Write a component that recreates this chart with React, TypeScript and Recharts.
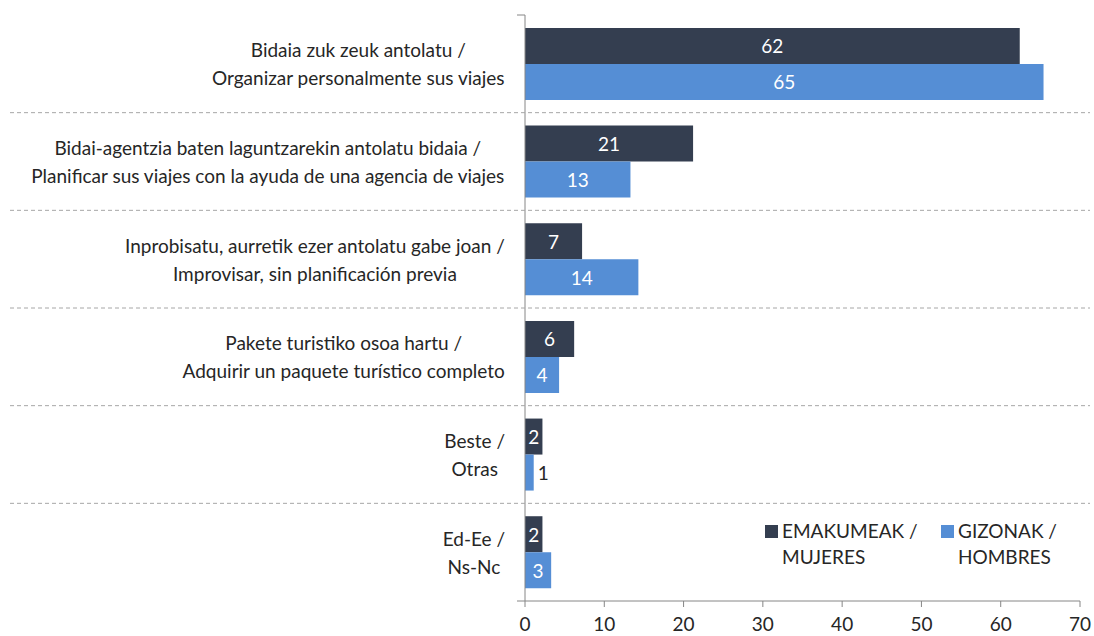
import React from 'react';
import { BarChart, Bar, XAxis, YAxis, LabelList, Legend } from 'recharts';

// categories: Basque / Spanish, two lines each
const labelLines = [
  ['Bidaia zuk zeuk antolatu /', 'Organizar personalmente sus viajes'],
  ['Bidai-agentzia baten laguntzarekin antolatu bidaia /', 'Planificar sus viajes con la ayuda de una agencia de viajes'],
  ['Inprobisatu, aurretik ezer antolatu gabe joan /', 'Improvisar, sin planificación previa'],
  ['Pakete turistiko osoa hartu /', 'Adquirir un paquete turístico completo'],
  ['Beste /', 'Otras'],
  ['Ed-Ee /', 'Ns-Nc'],
];
// percentages as drawn (labels show them rounded)
const mujeres = [62.4, 21.2, 7.2, 6.2, 2.2, 2.2];
const hombres = [65.4, 13.3, 14.3, 4.3, 1.1, 3.3];
const xTicks = [0, 10, 20, 30, 40, 50, 60, 70];
const seriesNames = [
  ['EMAKUMEAK /', 'MUJERES'],
  ['GIZONAK /', 'HOMBRES'],
];

const data = labelLines.map((lines, i) => ({
  key: String(i),
  mujeres: mujeres[i],
  hombres: hombres[i],
}));

const W = 1094;
const H = 636;
const MARGIN = { top: 15, right: 14, bottom: 5, left: 0 };
const X_AXIS_H = 30;
const Y_AXIS_W = 525;
const BAND = (H - MARGIN.top - MARGIN.bottom - X_AXIS_H) / data.length;

const DARK = '#343E50';
const LIGHT = '#558ED5';
const TEXT = '#262626';
const AXIS = '#868686';
const FONT_FAMILY = 'Lato, "Open Sans", sans-serif';
const FONT_SIZE = 19;
const LINE_H = 28;
const TICK_SIZE = 6;
const TICK_MARGIN = 14;

const measureCtx = typeof document !== 'undefined' ? document.createElement('canvas').getContext('2d') : null;
function textWidth(s: string) {
  if (!measureCtx) return s.length * 8;
  measureCtx.font = `${FONT_SIZE}px ${FONT_FAMILY}`;
  return measureCtx.measureText(s).width;
}

function CategoryTick(props: any) {
  const { x, y, payload, index } = props;
  const lines = labelLines[Number(payload.value)];
  const w = Math.max(...lines.map(textWidth));
  const cx = x - w / 2;
  const half = BAND / 2;
  const axisX = x + TICK_SIZE + TICK_MARGIN;
  return (
    <g>
      {lines.map((l, i) => (
        <text
          key={i}
          x={cx}
          y={y + (i - (lines.length - 1) / 2) * LINE_H}
          textAnchor="middle"
          dominantBaseline="central"
          fill={TEXT}
          fontSize={FONT_SIZE}
          fontFamily={FONT_FAMILY}
        >
          {l}
        </text>
      ))}
      {index > 0 && (
        <line x1={10} x2={W - 4} y1={y - half} y2={y - half} stroke="#A6A6A6" strokeDasharray="4 3" />
      )}
      {index === 0 && <line x1={axisX - 8} x2={axisX} y1={y - half} y2={y - half} stroke={AXIS} />}
      {index === data.length - 1 && <line x1={axisX - 8} x2={axisX} y1={y + half} y2={y + half} stroke={AXIS} />}
    </g>
  );
}

function ValueLabel(props: any) {
  const { value } = props;
  const vb = props.viewBox || {};
  const x = props.x ?? vb.x;
  const y = props.y ?? vb.y;
  const width = props.width ?? vb.width;
  const height = props.height ?? vb.height;
  const inside = width > 12;
  return (
    <text
      x={inside ? x + width / 2 : x + width + 4}
      y={y + height / 2}
      textAnchor={inside ? 'middle' : 'start'}
      dominantBaseline="central"
      fill={inside ? '#FFFFFF' : TEXT}
      fontSize={FONT_SIZE}
      fontFamily={FONT_FAMILY}
    >
      {Math.round(Number(value))}
    </text>
  );
}

function LegendContent() {
  const colors = [DARK, LIGHT];
  return (
    <div style={{ display: 'flex', fontFamily: FONT_FAMILY, fontSize: FONT_SIZE, color: TEXT }}>
      {seriesNames.map((lines, i) => (
        <div key={i} style={{ display: 'flex', alignItems: 'flex-start', width: 176, flexShrink: 0 }}>
          <div style={{ width: 13, height: 13, background: colors[i], marginTop: 7, marginRight: 4, flexShrink: 0 }} />
          <div style={{ lineHeight: '26px', textAlign: 'left', whiteSpace: 'nowrap' }}>
            {lines.map((l, j) => (
              <div key={j}>{l}</div>
            ))}
          </div>
        </div>
      ))}
    </div>
  );
}

export default function App() {
  return (
    <div style={{ width: W, height: H, background: '#fff' }}>
      <style>{`body{margin:0}`}</style>
      <BarChart
        width={W}
        height={H}
        data={data}
        layout="vertical"
        margin={MARGIN}
        barCategoryGap="13.2%"
        barGap={0}
      >
        <XAxis
          type="number"
          domain={[0, 70]}
          ticks={xTicks}
          height={X_AXIS_H}
          tickSize={6}
          tickMargin={11}
          axisLine={{ stroke: AXIS }}
          tickLine={{ stroke: AXIS }}
          tick={{ fill: TEXT, fontSize: FONT_SIZE, fontFamily: FONT_FAMILY }}
        />
        <YAxis
          type="category"
          dataKey="key"
          width={Y_AXIS_W}
          axisLine={{ stroke: AXIS }}
          tickLine={false}
          tickSize={TICK_SIZE}
          tickMargin={TICK_MARGIN}
          interval={0}
          tick={<CategoryTick />}
        />
        <Legend
          layout="horizontal"
          verticalAlign="middle"
          align="center"
          content={<LegendContent />}
          wrapperStyle={{ position: 'absolute', left: 765, top: 518, width: 320 }}
        />
        <Bar dataKey="mujeres" fill={DARK} isAnimationActive={false}>
          <LabelList dataKey="mujeres" content={<ValueLabel />} />
        </Bar>
        <Bar dataKey="hombres" fill={LIGHT} isAnimationActive={false}>
          <LabelList dataKey="hombres" content={<ValueLabel />} />
        </Bar>
      </BarChart>
    </div>
  );
}
